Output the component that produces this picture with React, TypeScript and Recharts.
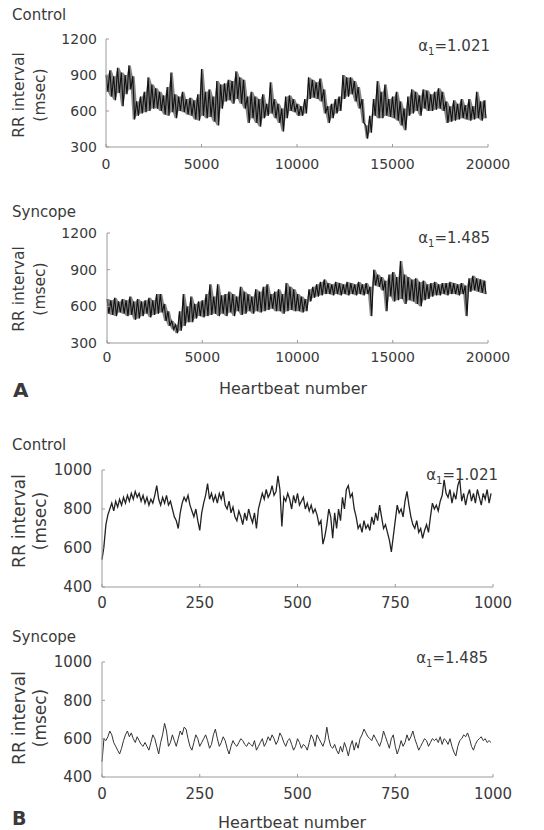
import React from 'react';
import { ComposedChart, Line, Area, XAxis, YAxis } from 'recharts';

// A: 20000 beats, read as a high / low envelope for every 200-beat bin
const binA = 200;
const controlAHigh = [
  900, 940, 890, 960, 920, 900, 980, 890, 680, 720,
  760, 880, 820, 790, 760, 730, 800, 920, 740, 720,
  760, 700, 710, 690, 740, 950, 760, 780, 720, 850,
  820, 830, 860, 850, 930, 880, 860, 720, 760, 720,
  700, 740, 660, 840, 700, 660, 620, 720, 730, 700,
  660, 640, 700, 880, 860, 840, 870, 780, 640, 660,
  700, 720, 900, 880, 880, 850, 800, 700, 480, 560,
  700, 850, 760, 820, 700, 720, 760, 680, 620, 720,
  780, 760, 730, 780, 770, 740, 760, 790, 760, 680,
  640, 690, 660, 700, 650, 700, 640, 760, 680, 690,
];
const controlALow = [
  760, 720, 690, 750, 640, 740, 780, 530, 560, 580,
  590, 600, 620, 620, 600, 570, 560, 590, 540, 600,
  590, 570, 560, 530, 520, 560, 540, 550, 510, 480,
  620, 680, 690, 660, 700, 660, 620, 500, 540, 500,
  470, 540, 560, 580, 540, 500, 430, 540, 600, 590,
  560, 560, 580, 700, 710, 700, 680, 580, 500, 540,
  580, 600, 700, 720, 740, 680, 620, 500, 370, 420,
  560, 540, 540, 560, 550, 540, 520, 480, 440, 560,
  580, 600, 560, 620, 600, 600, 610, 620, 600, 500,
  510, 520, 530, 540, 530, 520, 530, 540, 520, 540,
];
const syncopeAHigh = [
  660, 650, 670, 640, 660, 650, 680, 640, 660, 640,
  650, 670, 650, 700, 700, 620, 560, 480, 450, 560,
  700, 600, 680, 620, 640, 650, 700, 780, 680, 780,
  690, 700, 720, 700, 680, 760, 720, 700, 680, 740,
  720, 760, 780, 700, 720, 740, 700, 790, 760, 740,
  700, 680, 660, 740, 760, 780, 800, 820, 790, 780,
  800, 790, 780, 800, 790, 780, 800, 780, 790, 760,
  900, 860, 840, 810, 860, 880, 840, 970, 860, 840,
  820, 830, 800, 810, 780, 790, 800, 780, 790, 790,
  800, 790, 780, 790, 770, 830, 850, 830, 820, 810,
];
const syncopeALow = [
  540, 530, 520, 550, 540, 520, 530, 490, 500, 520,
  540, 510, 530, 540, 550, 480, 440, 410, 380, 400,
  440, 470, 470, 500, 520, 510, 520, 530, 540, 520,
  540, 520, 550, 520, 560, 530, 540, 560, 540, 560,
  550, 560, 570, 580, 560, 560, 540, 560, 570, 560,
  560, 550, 560, 640, 670, 680, 690, 700, 700, 690,
  700, 690, 700, 690, 700, 690, 700, 690, 700, 520,
  770, 760, 730, 560, 680, 640, 650, 660, 620, 650,
  640, 620, 600, 650, 660, 680, 690, 690, 700, 690,
  700, 700, 690, 700, 520, 720, 730, 720, 710, 700,
];

// B: first 1000 beats, one value every 5 beats
const stepB = 5;
const controlB = [
  540, 610, 720, 770, 800, 830, 790, 840, 810, 850,
  820, 860, 830, 870, 840, 880, 850, 890, 860, 880,
  840, 870, 830, 860, 820, 850, 830, 870, 920, 850,
  820, 860, 830, 870, 820, 840, 800, 760, 740, 700,
  780, 830, 860, 840, 870, 820, 790, 760, 800, 740,
  690, 780, 830, 870, 930, 850, 880, 840, 870, 830,
  880, 850, 890, 820, 800, 840, 780, 810, 760, 740,
  790, 760, 720, 780, 740, 800, 760, 730, 780, 700,
  800, 840, 880, 850, 900, 860, 880, 920, 870, 890,
  970, 900, 710, 860, 840, 880, 850, 800, 870, 830,
  880, 820, 840, 860, 800, 830, 790, 820, 780, 800,
  770, 720, 740, 620, 660, 720, 800, 760, 650, 780,
  700, 800, 740, 860, 800, 900, 920, 860, 880, 800,
  760, 700, 720, 680, 740, 700, 720, 690, 760, 720,
  780, 740, 820, 760, 700, 720, 680, 640, 580, 660,
  740, 820, 780, 800, 760, 840, 890, 820, 760, 720,
  700, 740, 680, 700, 650, 690, 720, 680, 760, 830,
  800, 820, 790, 840, 870, 950, 880, 860, 900, 830,
  880, 850, 920, 950, 840, 880, 820, 870, 900, 840,
  880, 830, 900, 860, 820, 880, 850, 900, 830, 880,
];
const syncopeB = [
  480, 600, 590, 610, 640, 620, 580, 560, 540, 520,
  550, 590, 620, 640, 610, 630, 600, 580, 610, 590,
  570, 560, 580, 560, 540, 580, 620, 600, 560, 520,
  580, 620, 680, 640, 560, 580, 620, 590, 560, 600,
  640, 620, 660, 650, 600, 560, 540, 580, 620, 600,
  560, 580, 600, 620, 590, 550, 570, 620, 650, 600,
  560, 580, 610, 590, 550, 520, 560, 590, 570, 560,
  580, 600, 590, 570, 560, 580, 570, 560, 590, 540,
  560, 580, 600, 560, 580, 610, 590, 620, 600, 570,
  590, 630, 610, 580, 560, 590, 600, 570, 540, 560,
  600, 580, 550, 570, 560, 540, 580, 620, 600, 560,
  620, 600, 580, 560, 590, 660, 600, 560, 550, 570,
  540, 520, 560, 530, 580, 550, 510, 560, 590, 540,
  580, 550, 600, 620, 650, 630, 610, 600, 590, 620,
  600, 580, 560, 590, 640, 610, 580, 550, 600, 620,
  560, 520, 550, 590, 560, 580, 620, 590, 610, 640,
  600, 570, 540, 560, 580, 600, 590, 560, 580, 600,
  590, 600, 580, 610, 570, 600, 590, 570, 600, 560,
  530, 510, 560, 590, 600, 620, 610, 630, 600, 560,
  540, 570, 590, 600, 610, 590, 600, 580, 590, 580,
];

const ticksAX = [0, 5000, 10000, 15000, 20000];
const ticksAY = [300, 600, 900, 1200];
const ticksBX = [0, 250, 500, 750, 1000];
const ticksBY = [400, 600, 800, 1000];

const FONT = '"DejaVu Sans", sans-serif';
const TEXT = '#3a3a3a';
const AXIS = '#9a9a9a';

type Row = { beat: number; rr: number; env?: [number, number] };

// zigzag through each bin's high and low, carrying the bin's envelope for the shaded band
function band(high: number[], low: number[], step: number): Row[] {
  const out: Row[] = [];
  high.forEach((h, i) => {
    out.push({ beat: i * step, rr: h, env: [low[i], h] });
    out.push({ beat: i * step + step / 2, rr: low[i], env: [low[i], h] });
  });
  return out;
}

function series(values: number[], step: number): Row[] {
  return values.map((v, i) => ({ beat: i * step, rr: v }));
}

type Box = { left: number; right: number; top: number; bottom: number };

function Panel(props: {
  box: Box; data: Row[];
  xMax: number; xTicks: number[]; yDomain: [number, number]; yTicks: number[];
  fontSize: number; xMargin: number; yMargin: number; strokeWidth: number; stroke: string;
  shaded?: boolean;
}) {
  const { box, data, xMax, xTicks, yDomain, yTicks, fontSize, xMargin, yMargin, strokeWidth, stroke, shaded } = props;
  const h = box.bottom - box.top + 10 + 30;
  const tick = { fill: TEXT, fontSize, fontFamily: FONT };
  return (
    <div style={{ position: 'absolute', left: 0, top: box.top - 10 }}>
      <ComposedChart width={544} height={h} data={data}
        margin={{ top: 10, right: 544 - box.right, bottom: 0, left: box.left - 60 }}>
        <XAxis dataKey="beat" type="number" domain={[0, xMax]} ticks={xTicks} interval={0}
          height={30} tick={tick} tickSize={-3} tickMargin={xMargin}
          axisLine={{ stroke: AXIS }} tickLine={{ stroke: AXIS }} />
        <YAxis type="number" domain={yDomain} ticks={yTicks} interval={0} width={60}
          tick={tick} tickSize={-3} tickMargin={yMargin}
          axisLine={{ stroke: AXIS }} tickLine={{ stroke: AXIS }} />
        {shaded && (
          <Area type="linear" dataKey="env" stroke="none" fill="#333" fillOpacity={0.6}
            isAnimationActive={false} />
        )}
        <Line type="linear" dataKey="rr" stroke={stroke} strokeWidth={strokeWidth}
          dot={false} isAnimationActive={false} />
      </ComposedChart>
    </div>
  );
}

function Txt({ x, y, size, children, right, bold }: any) {
  const pos: any = right ? { right: 544 - x } : { left: x };
  return (
    <div style={{ position: 'absolute', top: y, ...pos, transform: 'translateY(-50%)',
      fontFamily: FONT, fontSize: size, color: TEXT, lineHeight: 1, whiteSpace: 'nowrap',
      fontWeight: bold ? 'bold' : 'normal' }}>
      {children}
    </div>
  );
}

function YTitle({ cx, cy, size }: { cx: number; cy: number; size: number }) {
  return (
    <div style={{ position: 'absolute', left: cx, top: cy,
      transform: 'translate(-50%, -50%) rotate(-90deg)', fontFamily: FONT, fontSize: size,
      color: TEXT, lineHeight: '21px', textAlign: 'center', whiteSpace: 'nowrap' }}>
      RR interval<br />(msec)
    </div>
  );
}

function Alpha({ x, y, value }: { x: number; y: number; value: string }) {
  return (
    <Txt x={x} y={y} size={15} right>
      α<span style={{ fontSize: 10, position: 'relative', top: 4 }}>1</span>={value}
    </Txt>
  );
}

export default function App() {
  return (
    <div style={{ position: 'absolute', left: 0, top: 0, width: 544, height: 830, background: '#fff' }}>
      <Panel box={{ left: 106, right: 488, top: 39, bottom: 147 }} data={band(controlAHigh, controlALow, binA)}
        xMax={20000} xTicks={ticksAX} yDomain={[300, 1200]} yTicks={ticksAY} shaded
        fontSize={14} xMargin={15} yMargin={12} strokeWidth={1.1} stroke="#111" />
      <Panel box={{ left: 107, right: 488, top: 233, bottom: 343 }} data={band(syncopeAHigh, syncopeALow, binA)}
        xMax={20000} xTicks={ticksAX} yDomain={[300, 1200]} yTicks={ticksAY} shaded
        fontSize={14} xMargin={12} yMargin={13} strokeWidth={1.1} stroke="#111" />
      <Panel box={{ left: 102, right: 493, top: 470, bottom: 587 }} data={series(controlB, stepB)}
        xMax={1000} xTicks={ticksBX} yDomain={[400, 1000]} yTicks={ticksBY}
        fontSize={15} xMargin={13} yMargin={13} strokeWidth={1.3} stroke="#222" />
      <Panel box={{ left: 102, right: 493, top: 662, bottom: 777 }} data={series(syncopeB, stepB)}
        xMax={1000} xTicks={ticksBX} yDomain={[400, 1000]} yTicks={ticksBY}
        fontSize={15} xMargin={14} yMargin={13} strokeWidth={1} stroke="#333" />

      <Txt x={12} y={15} size={15}>Control</Txt>
      <Txt x={12} y={212} size={15}>Syncope</Txt>
      <Txt x={12} y={445} size={15}>Control</Txt>
      <Txt x={12} y={637} size={15}>Syncope</Txt>

      <YTitle cx={30} cy={95} size={15.5} />
      <YTitle cx={30} cy={289} size={15.5} />
      <YTitle cx={30} cy={521} size={17} />
      <YTitle cx={30} cy={718} size={17} />

      <Alpha x={490} y={46} value="1.021" />
      <Alpha x={490} y={238} value="1.485" />
      <Alpha x={498} y={475} value="1.021" />
      <Alpha x={488} y={658} value="1.485" />

      <div style={{ position: 'absolute', left: 293, top: 388, transform: 'translate(-50%, -50%)',
        fontFamily: FONT, fontSize: 16, color: TEXT, whiteSpace: 'nowrap' }}>Heartbeat number</div>
      <div style={{ position: 'absolute', left: 292, top: 822, transform: 'translate(-50%, -50%)',
        fontFamily: FONT, fontSize: 16, color: TEXT, whiteSpace: 'nowrap' }}>Heartbeat number</div>

      <Txt x={13} y={390} size={20} bold>A</Txt>
      <Txt x={12} y={818} size={19} bold>B</Txt>
    </div>
  );
}
